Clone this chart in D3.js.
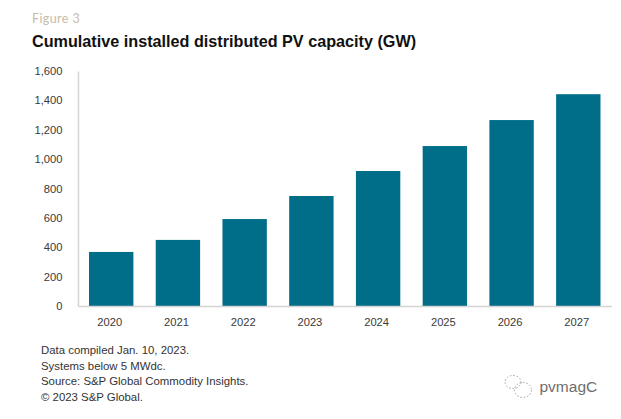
<!DOCTYPE html>
<meta charset="utf-8">
<script src="https://d3js.org/d3.v7.min.js"></script>
<style>
  html, body { margin: 0; padding: 0; background: #fff; }
  svg { display: block; }
  text { font-family: "Liberation Sans", Arial, sans-serif; }
  .y-axis path, .x-axis path { stroke: #d4d4d4; stroke-width: 1.5; }
  .tick text { fill: #3a3a3a; font-size: 11.2px; }
</style>
<div id="viz"></div>
<script>
  // data
  const years = ["2020", "2021", "2022", "2023", "2024", "2025", "2026", "2027"];
  const capacity = [368, 450, 592, 749, 919, 1089, 1266, 1442];
  const yTicks = [0, 200, 400, 600, 800, 1000, 1200, 1400, 1600];
  const notes = [
    "Data compiled Jan. 10, 2023.",
    "Systems below 5 MWdc.",
    "Source: S&P Global Commodity Insights.",
    "\u00a9 2023 S&P Global."
  ];

  const W = 621, H = 419;
  const margin = {top: 71, right: 10, bottom: 113, left: 78};

  const svg = d3.select("#viz").append("svg")
    .attr("width", W)
    .attr("height", H);

  const x = d3.scaleBand()
    .domain(years)
    .range([margin.left, W - margin.right + 0.5])
    .paddingInner(0.335)
    .paddingOuter(0.165);

  const y = d3.scaleLinear()
    .domain([0, 1600])
    .range([H - margin.bottom, margin.top]);

  // headings
  svg.append("text")
    .attr("x", 32).attr("y", 23)
    .attr("fill", "#c9bba8")
    .style("font-family", "Lato, 'Open Sans', sans-serif")
    .style("font-size", "12.5px")
    .style("letter-spacing", "0.4px")
    .text("Figure 3");

  svg.append("text")
    .attr("x", 32).attr("y", 46.5)
    .attr("fill", "#111")
    .style("font-size", "16.2px")
    .style("font-weight", "bold")
    .text("Cumulative installed distributed PV capacity (GW)");

  // bars
  svg.selectAll(".bar")
    .data(years)
    .enter()
    .append("rect")
      .attr("class", "bar")
      .attr("x", d => x(d))
      .attr("width", x.bandwidth())
      .attr("y", (d, i) => y(capacity[i]))
      .attr("height", (d, i) => y(0) - y(capacity[i]))
      .attr("fill", "#006d89");

  // axes
  svg.append("g")
    .attr("class", "y-axis")
    .attr("transform", `translate(${margin.left},0)`)
    .call(d3.axisLeft(y).tickValues(yTicks).tickSize(0).tickPadding(15.5).tickFormat(d3.format(",")));

  svg.append("g")
    .attr("class", "x-axis")
    .attr("transform", `translate(0,${H - margin.bottom})`)
    .call(d3.axisBottom(x).tickSize(0).tickPadding(12.5))
    .selectAll("text")
      .attr("dx", -1.5);

  // footnotes
  svg.selectAll(".note")
    .data(notes)
    .enter()
    .append("text")
      .attr("class", "note")
      .attr("x", 41)
      .attr("y", (d, i) => 354 + i * 15.7)
      .attr("fill", "#333")
      .style("font-size", "11.4px")
      .text(d => d);

  // watermark
  const mark = svg.append("g").attr("fill", "none").attr("stroke", "#9a9a9a")
    .attr("stroke-width", 0.9).attr("stroke-dasharray", "1.6 1.8");
  mark.append("ellipse").attr("cx", 513).attr("cy", 382).attr("rx", 8).attr("ry", 6.5);
  mark.append("ellipse").attr("cx", 523).attr("cy", 390).attr("rx", 8.5).attr("ry", 7.5);

  svg.append("text")
    .attr("x", 539.5).attr("y", 392)
    .attr("fill", "#6e6e6e")
    .style("font-size", "15.5px")
    .text("pvmagC");
</script>
